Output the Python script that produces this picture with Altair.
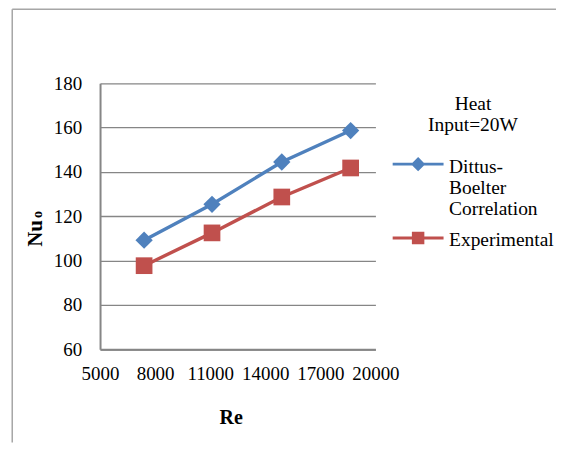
import altair as alt
import pandas as pd

SERIF = "Liberation Serif"

series_names = ["Dittus-Boelter Correlation", "Experimental"]
series_colors = ["#4F81BD", "#C0504D"]
re_values = [7400, 11100, 14900, 18650]
nu_dittus = [109.2, 125.4, 144.5, 158.7]
nu_exp = [97.7, 112.5, 128.7, 141.8]
x_ticks = [5000, 8000, 11000, 14000, 17000, 20000]
y_ticks = [60, 80, 100, 120, 140, 160, 180]
legend_title = ["Heat", "Input=20W"]

rows = []
for s, vals in zip(series_names, [nu_dittus, nu_exp]):
    for r, v in zip(re_values, vals):
        rows.append({"Re": r, "Nu": v, "series": s})
df = pd.DataFrame(rows)

GRID = "#868686"

# legend symbols: line with marker (custom paths, unit = sqrt(size)/2 px)
diamond_sym = "M-1,-0.33L1,-0.33M0,-0.526L0.196,-0.33L0,-0.134L-0.196,-0.33Z"
square_sym = "M-1,-0.33L1,-0.33M-0.186,-0.516L0.186,-0.516L0.186,-0.144L-0.186,-0.144Z"

x_enc = alt.X(
    "Re:Q",
    scale=alt.Scale(domain=[5000, 20000], nice=False, zero=False),
    axis=alt.Axis(
        values=x_ticks, format="d", grid=False, ticks=False, tickSize=0,
        labelFont=SERIF, labelFontSize=19, labelColor="black", labelPadding=15.5,
        labelFlush=False, labelOverlap=False,
        domainColor=GRID, domainWidth=2,
        title="Re", titleFont=SERIF, titleFontSize=20, titleFontWeight="bold",
        titleColor="black", titleX=131, titleY=68.5, titleBaseline="middle",
        titleAlign="center",
    ),
)
y_enc = alt.Y(
    "Nu:Q",
    scale=alt.Scale(domain=[60, 180], nice=False, zero=False),
    axis=alt.Axis(
        values=y_ticks, grid=True, gridColor=GRID, gridWidth=1.3,
        ticks=False, tickSize=0,
        labelFont=SERIF, labelFontSize=19, labelColor="black", labelPadding=18.3,
        labelOverlap=False,
        domainColor=GRID, domainWidth=2,
        title="Nu", titleFont=SERIF, titleFontSize=21, titleFontWeight="bold",
        titleColor="black", titleAngle=270, titleX=-64.5, titleY=150,
        titleBaseline="middle", titleAlign="center",
    ),
)

leg = alt.Legend(
    title=legend_title, orient="none", legendX=291.8, legendY=11.3, padding=0,
    titleFont=SERIF, titleFontSize=19.5, titleFontWeight="normal", titleColor="black",
    titleAlign="center", titleAnchor="middle", titlePadding=10.1,
    labelFont=SERIF, labelFontSize=19.5, labelColor="black", labelBaseline="alphabetic",
    labelExpr="datum.label == 'Dittus-Boelter Correlation' ? ['Dittus-', 'Boelter', 'Correlation'] : datum.label",
    labelOffset=4, labelLimit=300,
    symbolSize=2601, symbolStrokeWidth=3, symbolOpacity=1, rowPadding=0,
)

base = alt.Chart(df)

lines = base.mark_line(strokeWidth=3.4).encode(
    x=x_enc, y=y_enc,
    color=alt.Color("series:N", scale=alt.Scale(domain=series_names, range=series_colors), legend=leg),
)
pts_d = base.transform_filter(alt.datum.series == series_names[0]).mark_point(
    shape="diamond", filled=True, size=300, opacity=1, color=series_colors[0]
).encode(x=x_enc, y=y_enc)
pts_s = base.transform_filter(alt.datum.series == series_names[1]).mark_point(
    shape="square", filled=True, size=280, opacity=1, color=series_colors[1]
).encode(x=x_enc, y=y_enc)

ghost = base.mark_point(opacity=0, filled=True).encode(
    x=x_enc, y=y_enc,
    fill=alt.Fill("series:N", scale=alt.Scale(domain=series_names, range=series_colors), legend=leg),
    stroke=alt.Stroke("series:N", scale=alt.Scale(domain=series_names, range=series_colors), legend=leg),
    shape=alt.Shape("series:N", scale=alt.Scale(domain=series_names, range=[diamond_sym, square_sym]), legend=leg),
)

sub = alt.Chart(pd.DataFrame({"sub": ["o"]})).mark_text(
    font=SERIF, fontSize=14, fontWeight="bold", angle=270,
    baseline="alphabetic", align="center", color="black",
).encode(x=alt.value(-58), y=alt.value(131.5), text="sub:N")

frame_df = pd.DataFrame({"f": [0]})
frame_top = alt.Chart(frame_df).mark_rule(color="#A6A6A6", strokeWidth=1.5).encode(
    x=alt.value(-88), x2=alt.value(457), y=alt.value(-74.25)
)
frame_left = alt.Chart(frame_df).mark_rule(color="#A6A6A6", strokeWidth=1.5).encode(
    x=alt.value(-88), y=alt.value(-74.25), y2=alt.value(360)
)

chart = alt.layer(frame_top, frame_left, lines, pts_d, pts_s, ghost, sub).properties(
    width=276, height=266.5,
    padding={"left": 3.25, "top": 0, "right": 0, "bottom": 0},
).configure_view(strokeWidth=0)

chart.save("out.html", embed_options={"renderer": "svg", "actions": False})
